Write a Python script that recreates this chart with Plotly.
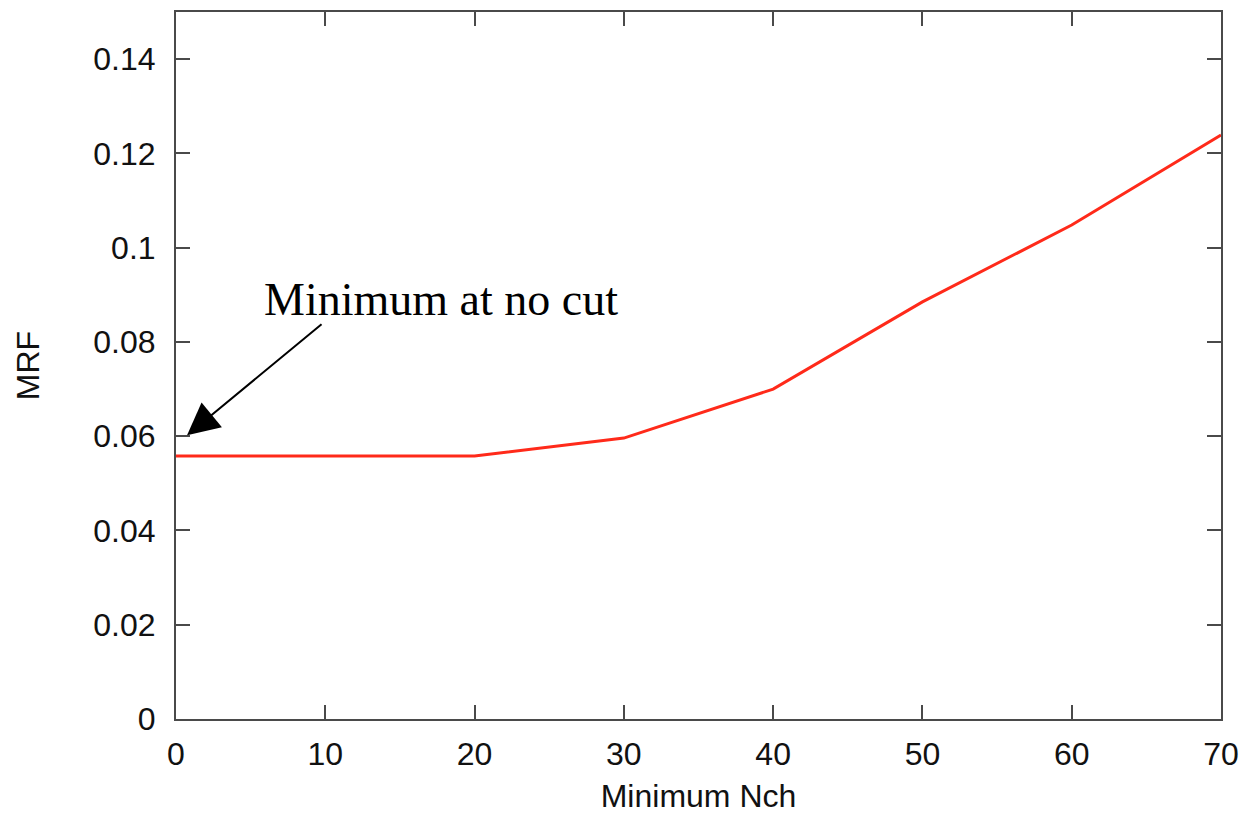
import plotly.graph_objects as go

# Minimum charged-particle multiplicity cut vs. resulting MRF
min_nch = [0, 10, 20, 30, 40, 50, 60, 70]
mrf = [0.0558, 0.0558, 0.0558, 0.0596, 0.0700, 0.0885, 0.1048, 0.1239]

x_ticks = [0, 10, 20, 30, 40, 50, 60, 70]
y_ticks = [0, 0.02, 0.04, 0.06, 0.08, 0.1, 0.12, 0.14]
y_tick_labels = ["0", "0.02", "0.04", "0.06", "0.08", "0.1", "0.12", "0.14"]

axis_color = "#4a4a4a"
label_font = dict(family="Liberation Sans, Arial, sans-serif", size=32, color="#111111")

fig = go.Figure()
fig.add_trace(go.Scatter(
    x=min_nch, y=mrf, mode="lines",
    line=dict(color="#ff2a1a", width=3),
    showlegend=False, hoverinfo="skip",
))

axis_common = dict(
    showgrid=False, zeroline=False, automargin=False,
    showline=True, linecolor=axis_color, linewidth=2,
    mirror="ticks", ticks="inside", ticklen=14, tickwidth=2, tickcolor=axis_color,
    tickfont=label_font,
)

fig.update_xaxes(
    range=[0, 70], tickvals=x_ticks, ticktext=[str(v) for v in x_ticks],
    ticklabelstandoff=6,
    title=dict(text="Minimum Nch", font=label_font, standoff=20),
    **axis_common,
)
fig.update_yaxes(
    range=[0, 0.15], tickvals=y_ticks, ticktext=y_tick_labels,
    ticklabelstandoff=12,
    title=dict(text="MRF", font=label_font, standoff=44),
    **axis_common,
)

# Arrow pointing at the no-cut point
fig.add_annotation(
    x=0.74, y=0.0602, ax=9.85, ay=0.0840,
    xref="x", yref="y", axref="x", ayref="y",
    text="", showarrow=True,
    arrowhead=2, arrowsize=3.2, arrowwidth=2, arrowcolor="#000000",
)
fig.add_annotation(
    x=17.75, y=0.0889, xref="x", yref="y",
    text="Minimum at no cut", showarrow=False,
    xanchor="center", yanchor="middle",
    font=dict(family="Liberation Serif, Times New Roman, serif", size=46, color="#000000"),
)

fig.update_layout(
    width=1248, height=814,
    margin=dict(l=176, r=27, t=12, b=95),
    paper_bgcolor="white", plot_bgcolor="white",
)

fig.write_html("out.html")
